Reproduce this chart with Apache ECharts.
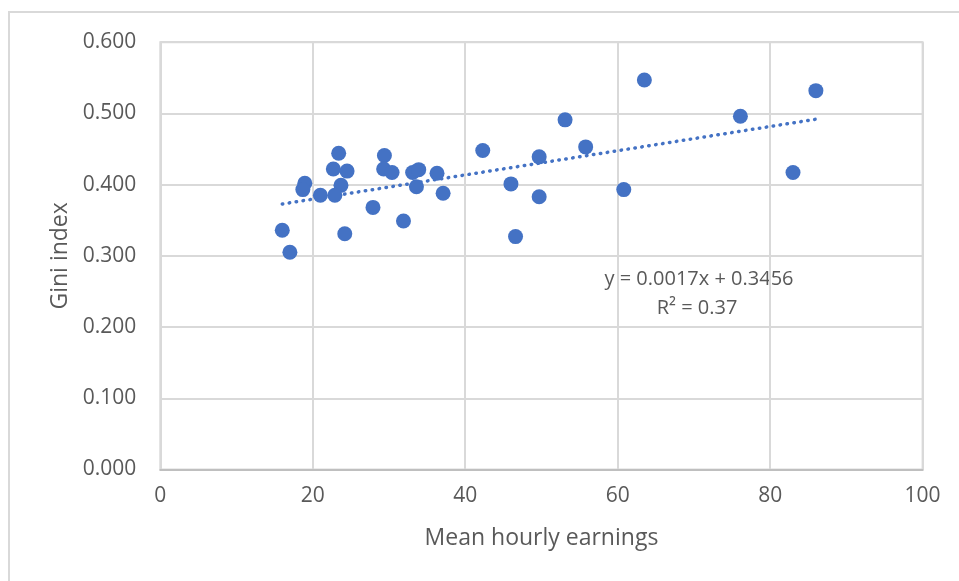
<!DOCTYPE html>
<html>
<head>
<meta charset="utf-8">
<script src="https://cdn.jsdelivr.net/npm/echarts@6/dist/echarts.min.js"></script>
<style>
html,body{margin:0;padding:0;background:#fff;}
#c{width:959px;height:581px;}
</style>
</head>
<body>
<div id="c"></div>
<script>
const earnings = [16.0, 17.0, 18.96, 18.7, 21.0, 23.4, 22.7, 24.5, 23.7, 22.9, 24.2, 27.9, 29.4, 29.3, 30.4, 31.9, 33.1, 33.9, 33.6, 36.3, 37.1, 42.3, 46.0, 46.6, 49.7, 49.7, 53.1, 55.8, 60.8, 63.5, 76.1, 83.0, 86.0];
const gini = [0.336, 0.305, 0.402, 0.393, 0.385, 0.444, 0.422, 0.419, 0.399, 0.385, 0.331, 0.368, 0.441, 0.422, 0.417, 0.349, 0.417, 0.421, 0.397, 0.416, 0.388, 0.448, 0.401, 0.327, 0.439, 0.383, 0.491, 0.453, 0.393, 0.547, 0.496, 0.417, 0.532];
const trendSlope = 0.0017;
const trendIntercept = 0.3456;
const trendX = [16.0, 86.0];
const xTicks = [0, 20, 40, 60, 80, 100];
const yTicks = [0, 0.1, 0.2, 0.3, 0.4, 0.5, 0.6];
const eqText = ['y = 0.0017x + 0.3456', 'R² = 0.37'];

const points = earnings.map((x, i) => [x, gini[i]]);
const trendPts = trendX.map(x => [x, trendSlope * x + trendIntercept]);

const chart = echarts.init(document.getElementById('c'));
const font = 'Open Sans';
const txt = '#595959';
chart.setOption({
  animation: false,
  backgroundColor: '#fff',
  graphic: [{
    type: 'rect', silent: true, z: -10,
    shape: {x: 9, y: 12, width: 960, height: 600},
    style: {fill: '#fff', stroke: '#d9d9d9', lineWidth: 2}
  }, {
    type: 'text', x: 699, y: 279, silent: true,
    style: {text: eqText[0], fontFamily: font, fontSize: 20, fill: txt, align: 'center', verticalAlign: 'middle'}
  }, {
    type: 'text', x: 697, y: 308, silent: true,
    style: {text: eqText[1], fontFamily: font, fontSize: 20, fill: txt, align: 'center', verticalAlign: 'middle'}
  }],
  grid: {left: 160.3, right: 36.4, top: 42.2, bottom: 111.5, show: true, borderColor: '#d9d9d9', borderWidth: 2},
  xAxis: {
    type: 'value', min: xTicks[0], max: xTicks[xTicks.length - 1], interval: xTicks[1] - xTicks[0],
    name: 'Mean hourly earnings', nameLocation: 'middle', nameGap: 57,
    nameTextStyle: {fontFamily: font, fontSize: 23, color: txt},
    axisLine: {show: true, lineStyle: {color: '#bfbfbf', width: 2}},
    axisTick: {show: false},
    axisLabel: {fontFamily: font, fontSize: 21, color: txt, margin: 16},
    splitLine: {show: true, lineStyle: {color: '#d9d9d9', width: 2}}
  },
  yAxis: {
    type: 'value', min: yTicks[0], max: yTicks[yTicks.length - 1], interval: 0.1,
    name: 'Gini index', nameLocation: 'middle', nameGap: 84, nameRotate: 90,
    nameTextStyle: {fontFamily: font, fontSize: 23, color: txt},
    axisLine: {show: false},
    axisTick: {show: false},
    axisLabel: {fontFamily: font, fontSize: 21, color: txt, margin: 24, formatter: v => v.toFixed(3)},
    splitLine: {show: true, lineStyle: {color: '#d9d9d9', width: 2}}
  },
  series: [{
    type: 'line', data: trendPts, showSymbol: false, silent: true, z: 1,
    lineStyle: {color: '#4472C4', width: 3.5, type: [0.5, 6.5], cap: 'round'}
  }, {
    type: 'scatter', data: points, symbolSize: 15, z: 2,
    itemStyle: {color: '#4472C4', opacity: 1}
  }]
});
</script>
</body>
</html>
